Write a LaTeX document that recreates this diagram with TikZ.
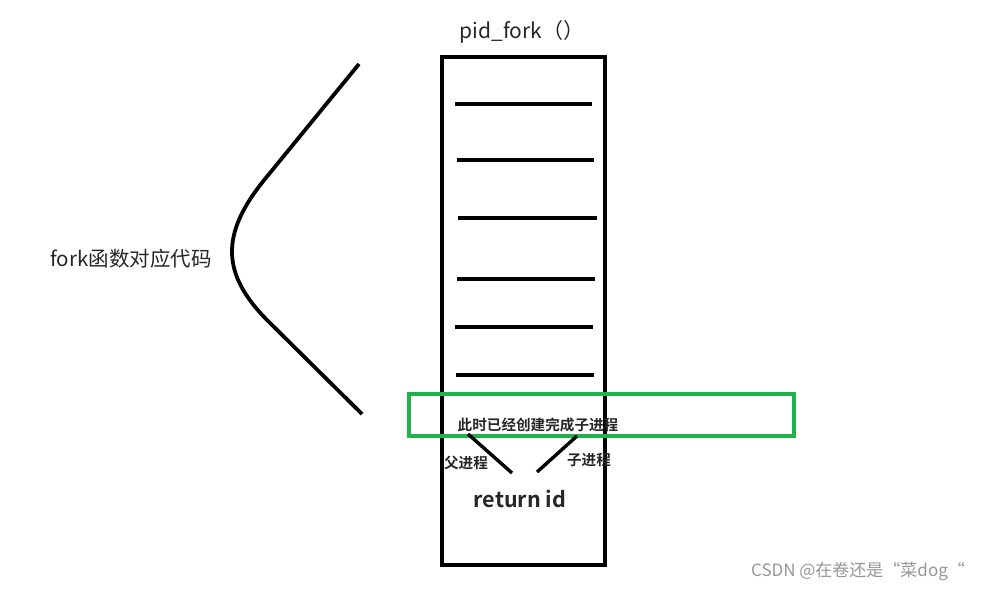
\documentclass[tikz,border=0pt]{standalone}
\usepackage{fontspec}
\setmainfont{Noto Sans CJK SC}[BoldFont={Noto Sans CJK SC Bold}]
\usetikzlibrary{positioning}
\definecolor{boxgreen}{RGB}{34,177,76}
\definecolor{markgray}{RGB}{150,150,150}
\begin{document}
\begin{tikzpicture}[x=1pt,y=-1pt]
\tikzset{every node/.style={inner sep=0pt,text=black!85},
	codeline/.style={line width=3.4pt},
	note/.style={font=\bfseries\fontsize{14.6}{16}\selectfont}}
\useasboundingbox (0,0) rectangle (982,590);
% stack of the function
\draw[line width=3.8pt] (442,57) rectangle (605,565);
\foreach \y/\a/\b in {104/455/592,160/457/594,218/458/597,279/457/595,327/455/593,375/456/594}
	\draw[codeline] (\a,\y) -- (\b,\y);
\node (title) at (522,32) {\fontsize{21}{24}\selectfont pid\_fork（）};
% brace for the code
\draw[line width=3.8pt] (359,64) -- (265,179) .. controls (220,234) and (221,274) .. (268,321) -- (362,414);
\node (code) at (131,259) {\fontsize{20.5}{24}\selectfont fork函数对应代码};
% the point where the child exists
\draw[boxgreen,line width=3.4pt] (409,394) rectangle (794,436);
\node[note] (now) at (538,425) {此时已经创建完成子进程};
\node[note] (parent) at (466,463) {父进程};
\node[note] (child) at (589,460) {子进程};
\node (ret) at (520,499) {\bfseries\fontsize{21.5}{24}\selectfont return id};
\coordinate (p1) at (468,434);
\coordinate (p2) at (512,473);
\coordinate (c1) at (577,436);
\coordinate (c2) at (537,472);
\draw[line width=3.4pt] (p1) -- (p2);
\draw[line width=3.4pt] (c1) -- (c2);
\node[text=markgray] (csdn) at (858,571) {\fontsize{17}{18}\selectfont CSDN @在卷还是“菜dog“};
\end{tikzpicture}
\end{document}
